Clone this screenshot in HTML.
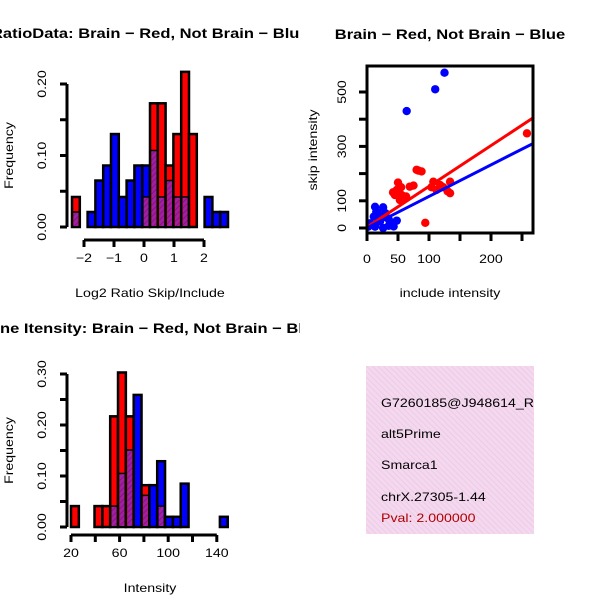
<!DOCTYPE html>
<html><head><meta charset="utf-8"><style>
html,body{margin:0;padding:0;background:#fff;}
svg{display:block;font-family:"Liberation Sans",Helvetica,sans-serif;}
</style></head><body>
<svg id="c" width="600" height="600" viewBox="0 0 600 600" xmlns="http://www.w3.org/2000/svg">
<defs>
<pattern id="hatch" width="4" height="4" patternUnits="userSpaceOnUse" patternTransform="rotate(45)">
<rect width="4" height="4" fill="#a020a0"/><line x1="0" y1="0" x2="0" y2="4" stroke="#7a107a" stroke-width="1.5"/></pattern>
<pattern id="pinkhatch" width="4" height="4" patternUnits="userSpaceOnUse" patternTransform="rotate(-45)">
<rect width="4" height="4" fill="#f6d6f0"/><line x1="0" y1="0" x2="0" y2="4" stroke="#dccfd6" stroke-width="1.2"/></pattern>
<clipPath id="clipL"><rect x="0" y="0" width="300" height="600"/></clipPath>
<clipPath id="clipBox"><rect x="366" y="366" width="168" height="168"/></clipPath>
<clipPath id="clipSc"><rect x="367" y="66" width="166" height="167"/></clipPath>
</defs>
<g id="h1"></g>
<g id="h2"></g>
<g id="sc"></g>
<g>
<rect x="366" y="366" width="168" height="168" fill="url(#pinkhatch)"/>
<g clip-path="url(#clipBox)" font-size="12">
<text x="381" y="407">G7260185@J948614_RC</text>
<text x="381" y="438">alt5Prime</text>
<text x="381" y="469">Smarca1</text>
<text x="381" y="501">chrX.27305-1.44</text>
<text x="381" y="522" fill="#b00000">Pval: 2.000000</text>
</g></g>
</svg>
<script>
// Histogram 1 data (Log2 ratio)
const h1Start = -2.4;
const h1Width = 0.26;
const h1Red  = [0.042,0,0,0,0,0,0,0,0,0.042,0.173,0.173,0.086,0.13,0.217,0.13,0,0,0,0];
const h1Blue = [0.021,0,0.021,0.065,0.086,0.13,0.042,0.065,0.086,0.086,0.107,0.042,0.065,0.042,0.042,0,0,0.042,0.021,0.021];
const h1XTicks = [-2,-1,0,1,2];
const h1YTicks = [0,0.05,0.10,0.15,0.20];
const h1YLabels = ["0.00","0.10","0.20"];
// Histogram 2 data (Intensity)
const h2Start = 20;
const h2Width = 6.45;
const h2Red  = [0.041,0,0,0.041,0.041,0.217,0.303,0.217,0,0.082,0,0.041,0,0,0,0,0,0,0,0];
const h2Blue = [0,0,0,0,0,0.041,0.105,0.151,0.259,0.062,0.082,0.129,0.02,0.02,0.085,0,0,0,0,0.02];
const h2XTicks = [20,40,60,80,100,120,140];
const h2XLabels = [20,60,100,140];
const h2YTicks = [0,0.05,0.10,0.15,0.20,0.25,0.30];
const h2YLabels = ["0.00","0.10","0.20","0.30"];
// Scatter data
const redX = [83,88,80,50,48,55,69,75,45,56,63,42,53,107,118,134,134,123,104,94,16,258,60,112,130];
const redY = [211,208,214,167,140,150,152,156,121,121,116,131,103,170,158,170,128,150,150,19,55,348,110,140,135];
const blueX = [13,26,18,11,30,5,21,35,48,43,26,13,35,2,125,110,64,20,8,40,30,15];
const blueY = [78,76,54,42,54,17,24,32,27,6,0,5,8,5,571,510,430,30,12,20,40,60];
const scXTicks = [0,50,100,150,200,250];
const scXLabels = [0,50,100,200];
const scYTicks = [0,100,200,300,400,500];
const scYLabels = [0,100,300,500];
const redFit = [3, 1.5];
const blueFit = [0, 1.16];

const NS = "http://www.w3.org/2000/svg";
function mk(parent, tag, attrs, txt){const e=document.createElementNS(NS,tag);for(const k in attrs)e.setAttribute(k,attrs[k]);if(txt!==undefined)e.textContent=txt;parent.appendChild(e);return e;}

function hist(g, start, width, red, blue, xs, ys, xTicks, xLabels, yTicks, yLabels, axisY, title, titleX, xlab, prefix){
  const clip = mk(g,'g',{'clip-path':'url(#clipL)'});
  red.forEach((r,i)=>{
    const b = blue[i];
    const x0 = xs(start+i*width), x1 = xs(start+(i+1)*width);
    const hi = Math.max(r,b), lo = Math.min(r,b);
    if(hi>0){
      const e = mk(g,'rect',{x:x0,y:ys(hi),width:x1-x0,height:ys(0)-ys(hi),fill:r>=b?'#ff0000':'#0000ff',stroke:'#000','stroke-width':2.5});
      
      
    }
    if(lo>0){
      const e = mk(g,'rect',{x:x0+1.5,y:ys(lo),width:x1-x0-3,height:ys(0)-ys(lo)-1,fill:'url(#hatch)'});
      
      
      mk(g,'line',{x1:x0,x2:x1,y1:ys(lo),y2:ys(lo),stroke:'#000','stroke-width':1.5});
    }
  });
  const ya = mk(g,'g',{});
  
  
  mk(ya,'line',{x1:67,x2:67,y1:ys(yTicks[0]),y2:ys(yTicks[yTicks.length-1]),stroke:'#000','stroke-width':3});
  yTicks.forEach(t=>mk(ya,'line',{x1:60,x2:67,y1:ys(t),y2:ys(t),stroke:'#000','stroke-width':3}));
  yLabels.forEach(l=>{const v=parseFloat(l);mk(ya,'text',{x:0,y:0,'font-size':12,'text-anchor':'middle',transform:`translate(46 ${ys(v)}) rotate(-90)`},l);});
  const xa = mk(g,'g',{});
  
  
  mk(xa,'line',{x1:xs(xTicks[0]),x2:xs(xTicks[xTicks.length-1]),y1:axisY,y2:axisY,stroke:'#000','stroke-width':3});
  xTicks.forEach(t=>mk(xa,'line',{x1:xs(t),x2:xs(t),y1:axisY,y2:axisY+7,stroke:'#000','stroke-width':3}));
  xLabels.forEach(l=>mk(xa,'text',{x:xs(l),y:axisY+22,'font-size':12,'text-anchor':'middle'},String(l).replace('-','\u2212')));
  const xt = mk(g,'text',{x:150,y:axisY+57,'font-size':12,'text-anchor':'middle'},xlab);
  
  
  const yt = mk(g,'text',{x:0,y:0,'font-size':12,'text-anchor':'middle',transform:`translate(13 ${(ys(0)+ys(yTicks[yTicks.length-1]))/2}) rotate(-90)`},'Frequency');
  
  
  const tt = mk(clip,'text',{x:titleX,y:axisY-202,'font-size':14,'font-weight':'bold'},title);
  
  
}

hist(document.getElementById('h1'), h1Start, h1Width, h1Red, h1Blue,
  v=>144+v*30, v=>227-v*715, h1XTicks, h1XTicks, h1YTicks, h1YLabels, 240,
  'RatioData: Brain \u2212 Red, Not Brain \u2212 Blue', -9, 'Log2 Ratio Skip/Include', 'ratio');
hist(document.getElementById('h2'), h2Start, h2Width, h2Red, h2Blue,
  v=>71+(v-20)*1.215, v=>527-v*510, h2XTicks, h2XLabels, h2YTicks, h2YLabels, 535,
  'Gene Itensity: Brain \u2212 Red, Not Brain \u2212 Blue', -22, 'Intensity', 'intensity');

(function(){
  const g = document.getElementById('sc');
  const xs = v=>367+v*0.62, ys = v=>228-v*0.272;
  const pc = mk(g,'g',{'clip-path':'url(#clipSc)'});
  redX.forEach((x,i)=>{const c=mk(pc,'circle',{cx:xs(x),cy:ys(redY[i]),r:4.2,fill:'#ff0000'});
    
    });
  blueX.forEach((x,i)=>{const c=mk(pc,'circle',{cx:xs(x),cy:ys(blueY[i]),r:4.2,fill:'#0000ff'});
    
    });
  const rl = mk(pc,'line',{x1:xs(0),y1:ys(redFit[0]),x2:xs(270),y2:ys(redFit[0]+redFit[1]*270),stroke:'#ff0000','stroke-width':3});
  
  
  const bl = mk(pc,'line',{x1:xs(0),y1:ys(blueFit[0]),x2:xs(270),y2:ys(blueFit[0]+blueFit[1]*270),stroke:'#0000ff','stroke-width':3});
  
  
  const box = mk(g,'rect',{x:367,y:66,width:166,height:167,fill:'none',stroke:'#000','stroke-width':3});
  
  
  scXTicks.forEach(t=>mk(g,'line',{x1:xs(t),x2:xs(t),y1:233,y2:241,stroke:'#000','stroke-width':3}));
  scXLabels.forEach(l=>mk(g,'text',{x:xs(l),y:263,'font-size':12,'text-anchor':'middle'},String(l)));
  scYTicks.forEach(t=>mk(g,'line',{x1:359,x2:367,y1:ys(t),y2:ys(t),stroke:'#000','stroke-width':3}));
  scYLabels.forEach(l=>mk(g,'text',{x:0,y:0,'font-size':12,'text-anchor':'middle',transform:`translate(346 ${ys(l)}) rotate(-90)`},String(l)));
  const xt = mk(g,'text',{x:450,y:297,'font-size':12,'text-anchor':'middle'},'include intensity');
  
  
  const yt = mk(g,'text',{x:0,y:0,'font-size':12,'text-anchor':'middle',transform:'translate(317 150) rotate(-90)'},'skip intensity');
  
  
  const tt = mk(g,'text',{x:450,y:39,'font-size':14,'font-weight':'bold','text-anchor':'middle'},'Brain \u2212 Red, Not Brain \u2212 Blue');
  
  
})();

// widen all text to match the reference font metrics
document.querySelectorAll('#c text').forEach(t=>{
  const w = t.getComputedTextLength();
  if(w>0){ t.setAttribute('textLength', (w*1.18).toFixed(1)); t.setAttribute('lengthAdjust','spacingAndGlyphs'); }
});
</script>
</body></html>
